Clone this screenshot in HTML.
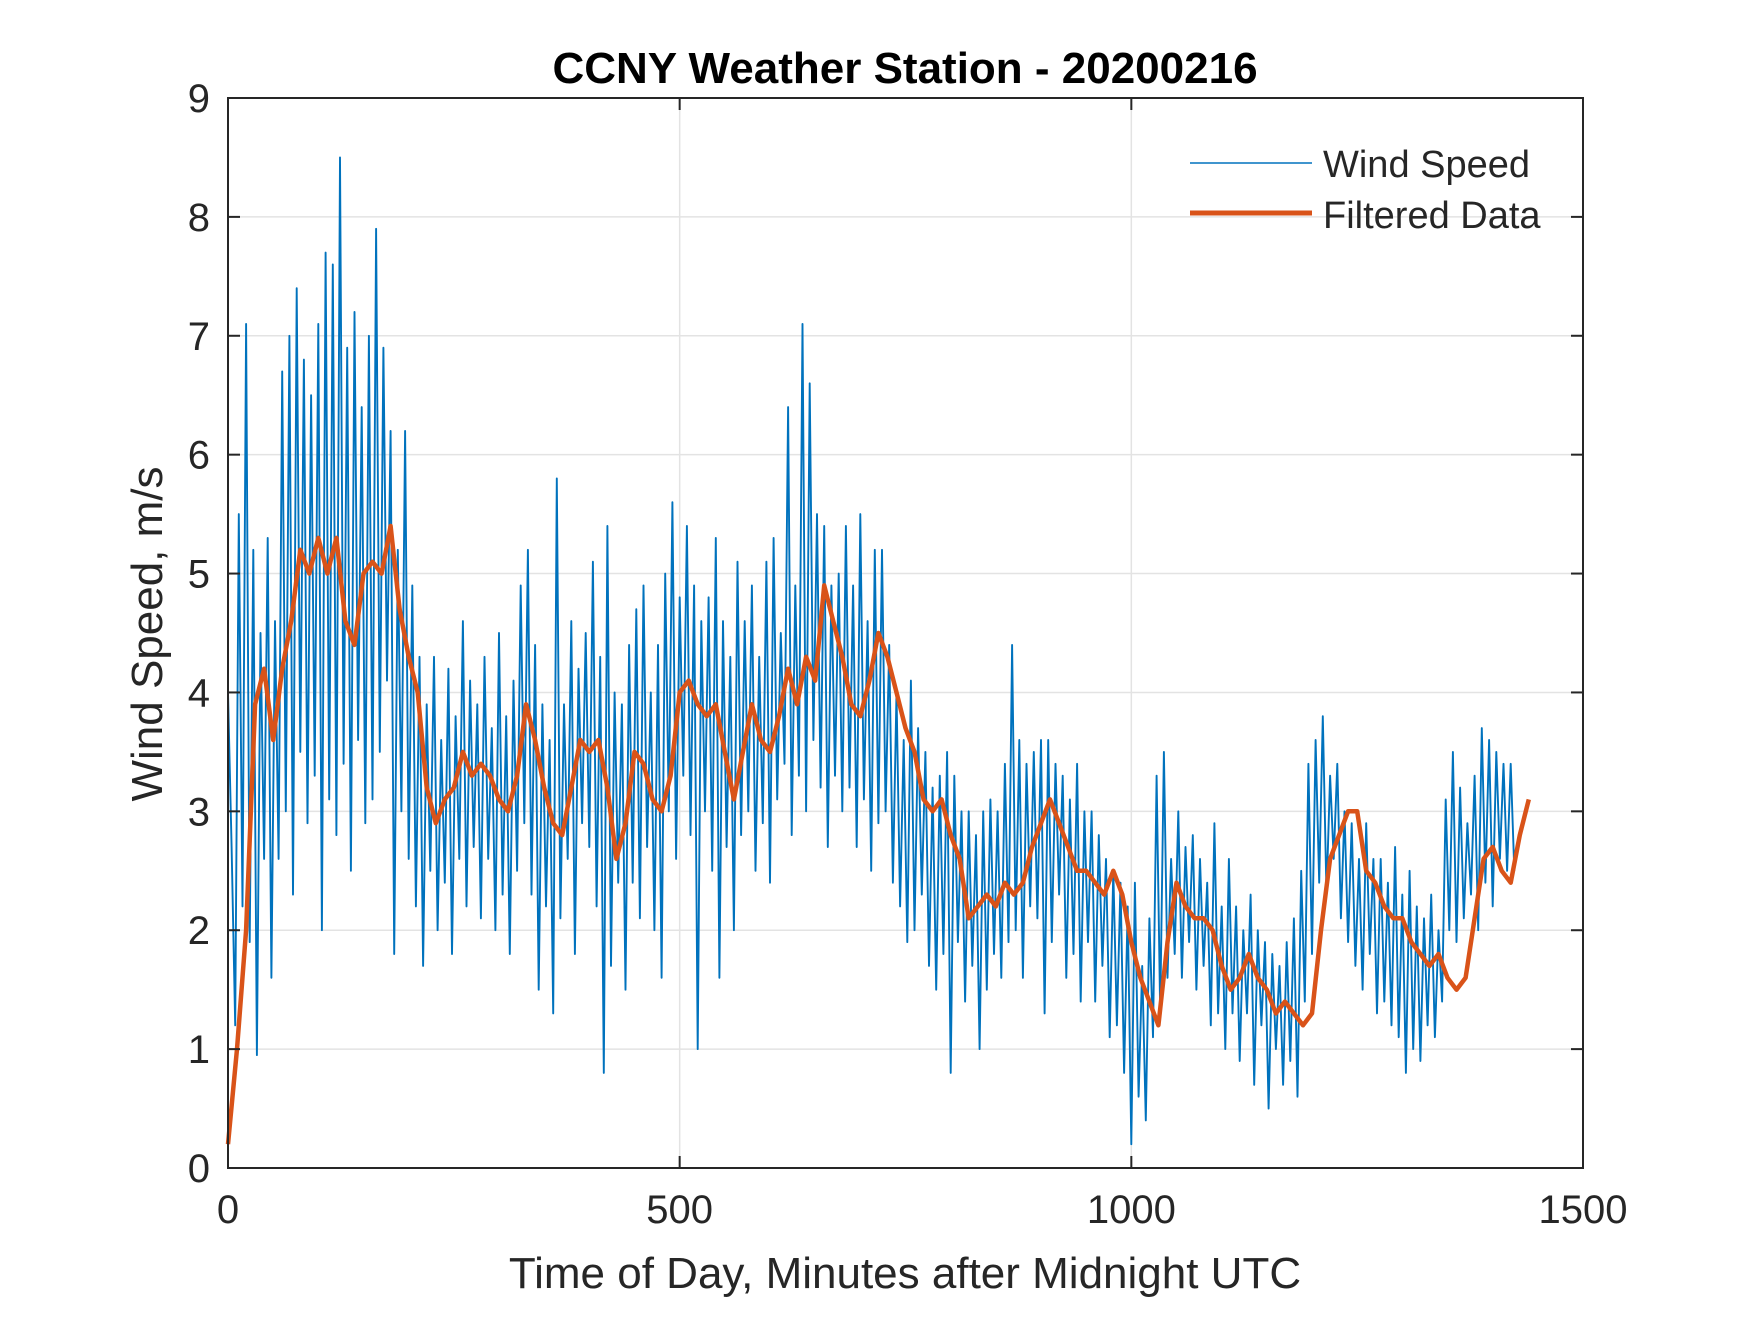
<!DOCTYPE html>
<html><head><meta charset="utf-8"><style>
body{margin:0;background:#fff}
svg text{font-family:"Liberation Sans",Arial,sans-serif;fill:#262626}
</style></head><body>
<svg id="chart" width="1750" height="1313" viewBox="0 0 1750 1313" xmlns="http://www.w3.org/2000/svg">
<rect width="1750" height="1313" fill="#fff"/>
<g id="grid"></g>
<g id="series"></g>
<rect x="228" y="98" width="1355" height="1070" fill="none" stroke="#262626" stroke-width="2"/>
<g id="ticks"></g>
<text x="905" y="83" text-anchor="middle" font-size="44" font-weight="bold" style="fill:#000">CCNY Weather Station - 20200216</text>
<text x="905" y="1288" text-anchor="middle" font-size="44">Time of Day, Minutes after Midnight UTC</text>
<text x="0" y="0" text-anchor="middle" font-size="44" transform="translate(162,634) rotate(-90)">Wind Speed, m/s</text>
<g>
<line x1="1190" y1="163" x2="1312" y2="163" stroke="#0072BD" stroke-width="1.6"/>
<text x="1323" y="177" font-size="38">Wind Speed</text>
<line x1="1190" y1="213" x2="1312" y2="213" stroke="#D95319" stroke-width="5"/>
<text x="1323" y="228" font-size="38">Filtered Data</text>
</g>
</svg>
<script>
const xTicks=[0,500,1000,1500];
const yTicks=[0,1,2,3,4,5,6,7,8,9];
const windStep=4;
const windValues=[4.0,2.7,1.2,5.5,2.2,7.1,1.9,5.2,0.95,4.5,
2.6,5.3,1.6,4.6,2.6,6.7,3.0,7.0,2.3,7.4,
3.5,6.8,2.9,6.5,3.3,7.1,2.0,7.7,3.1,7.6,
2.8,8.5,3.4,6.9,2.5,7.2,3.6,6.4,2.9,7.0,
3.1,7.9,3.5,6.9,4.1,6.2,1.8,5.2,3.0,6.2,
2.6,4.9,2.2,4.3,1.7,3.9,2.5,4.3,2.0,3.6,
2.4,4.2,1.8,3.8,2.6,4.6,2.2,4.1,2.7,3.9,
2.1,4.3,2.6,3.7,2.0,4.5,2.3,3.8,1.8,4.1,
2.5,4.9,2.9,5.2,2.3,4.4,1.5,3.9,2.2,3.6,
1.3,5.8,2.1,3.9,2.6,4.6,1.8,4.2,2.9,4.5,
2.7,5.1,2.2,4.3,0.8,5.4,1.7,4.0,2.4,3.9,
1.5,4.4,2.4,4.7,2.1,4.9,2.7,4.0,2.0,4.4,
1.6,5.0,3.0,5.6,2.6,4.8,3.3,5.4,2.8,4.9,
1.0,4.6,3.0,4.8,2.5,5.3,1.6,4.6,2.7,4.3,
2.0,5.1,2.8,4.6,3.0,4.9,2.5,4.3,2.9,5.1,
2.4,5.3,3.1,4.5,3.4,6.4,2.8,4.9,3.3,7.1,
3.0,6.6,3.6,5.5,3.2,5.4,2.7,4.9,3.3,5.0,
3.0,5.4,3.2,4.9,2.7,5.5,3.1,4.6,2.5,5.2,
2.9,5.2,3.0,4.4,2.4,4.0,2.2,3.6,1.9,4.1,
2.0,3.7,2.3,3.5,1.7,3.2,1.5,3.3,1.8,3.5,
0.8,3.3,1.9,3.0,1.4,3.0,1.7,2.8,1.0,3.0,
1.5,3.1,1.8,3.0,1.6,3.4,1.9,4.4,2.0,3.6,
1.6,3.4,2.2,3.5,2.1,3.6,1.3,3.6,1.9,3.4,
2.3,3.3,1.6,3.1,1.8,3.4,1.4,3.0,1.9,3.0,
1.4,2.8,1.7,2.6,1.1,2.5,1.2,2.4,0.8,2.2,
0.2,2.4,0.6,1.7,0.4,2.1,1.1,3.3,1.3,3.5,
1.6,2.6,1.8,3.0,1.6,2.7,1.9,2.8,1.5,2.6,
1.7,2.4,1.2,2.9,1.3,2.2,1.0,2.6,1.3,2.2,
0.9,2.0,1.3,2.3,0.7,2.0,1.2,1.9,0.5,1.8,
1.0,1.7,0.7,1.9,0.9,2.1,0.6,2.5,1.4,3.4,
1.8,3.6,2.4,3.8,2.3,3.3,2.6,3.4,2.1,3.0,
1.9,2.9,1.7,2.6,1.5,2.9,1.8,2.6,1.3,2.6,
1.4,2.4,1.2,2.7,1.1,2.3,0.8,2.5,1.0,2.2,
0.9,2.1,1.2,2.3,1.1,2.0,1.4,3.1,2.0,3.5,
1.9,3.2,2.1,2.9,2.3,3.3,2.0,3.7,2.4,3.6,
2.2,3.5,2.6,3.4,2.5,3.4,2.5];
const filtStep=10;
const filtValues=[0.2,1.0,2.0,3.9,4.2,3.6,4.2,4.6,5.2,5.0,5.3,5.0,5.3,4.6,4.4,5.0,5.1,5.0,5.4,4.7,
4.3,4.0,3.2,2.9,3.1,3.2,3.5,3.3,3.4,3.3,3.1,3.0,3.3,3.9,3.6,3.2,2.9,2.8,3.2,3.6,
3.5,3.6,3.2,2.6,2.9,3.5,3.4,3.1,3.0,3.3,4.0,4.1,3.9,3.8,3.9,3.5,3.1,3.5,3.9,3.6,
3.5,3.8,4.2,3.9,4.3,4.1,4.9,4.6,4.3,3.9,3.8,4.1,4.5,4.3,4.0,3.7,3.5,3.1,3.0,3.1,
2.8,2.6,2.1,2.2,2.3,2.2,2.4,2.3,2.4,2.7,2.9,3.1,2.9,2.7,2.5,2.5,2.4,2.3,2.5,2.3,
1.9,1.6,1.4,1.2,1.9,2.4,2.2,2.1,2.1,2.0,1.7,1.5,1.6,1.8,1.6,1.5,1.3,1.4,1.3,1.2,
1.3,2.0,2.6,2.8,3.0,3.0,2.5,2.4,2.2,2.1,2.1,1.9,1.8,1.7,1.8,1.6,1.5,1.6,2.1,2.6,
2.7,2.5,2.4,2.8,3.1];
const L=228,R=1583,T=98,B=1168;
const sx=v=>L+(v-0)/1500*(R-L);
const sy=v=>B-(v-0)/9*(B-T);
const NS='http://www.w3.org/2000/svg';
const grid=document.getElementById('grid'),ticks=document.getElementById('ticks'),series=document.getElementById('series');
function mk(tag,attrs,parent){const e=document.createElementNS(NS,tag);for(const k in attrs)e.setAttribute(k,attrs[k]);parent.appendChild(e);return e;}
xTicks.forEach(v=>{const x=sx(v);
 const g=mk('line',{x1:x,x2:x,y1:T,y2:B,stroke:'#e3e3e3','stroke-width':1.5},grid);
 
 
 mk('line',{x1:x,x2:x,y1:B,y2:B-12,stroke:'#262626','stroke-width':2},ticks);
 mk('line',{x1:x,x2:x,y1:T,y2:T+12,stroke:'#262626','stroke-width':2},ticks);
 const t=mk('text',{x:x,y:B+55,'text-anchor':'middle','font-size':40},ticks);t.textContent=v;
 
 
});
yTicks.forEach(v=>{const y=sy(v);
 const g=mk('line',{x1:L,x2:R,y1:y,y2:y,stroke:'#e3e3e3','stroke-width':1.5},grid);
 
 
 mk('line',{x1:L,x2:L+12,y1:y,y2:y,stroke:'#262626','stroke-width':2},ticks);
 mk('line',{x1:R,x2:R-12,y1:y,y2:y,stroke:'#262626','stroke-width':2},ticks);
 const t=mk('text',{x:L-18,y:y+14,'text-anchor':'end','font-size':40},ticks);t.textContent=v;
 
 
});
const wp=windValues.map((v,i)=>sx(i*windStep).toFixed(1)+','+sy(v).toFixed(1)).join(' ');
const w=mk('polyline',{points:wp,fill:'none',stroke:'#0072BD','stroke-width':1.9,'stroke-linejoin':'round'},series);


const fp=filtValues.map((v,i)=>sx(i*filtStep).toFixed(1)+','+sy(v).toFixed(1)).join(' ');
const f=mk('polyline',{points:fp,fill:'none',stroke:'#D95319','stroke-width':4.5,'stroke-linejoin':'round'},series);


</script>
</body></html>
